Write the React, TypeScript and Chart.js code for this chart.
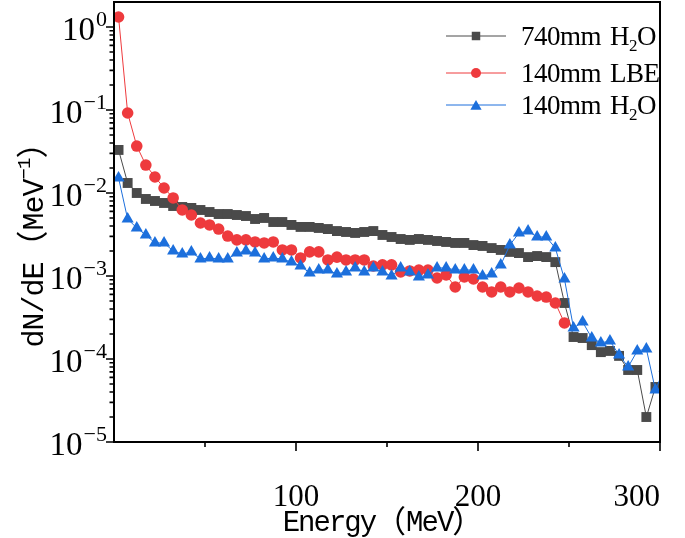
import React, { useEffect, useRef } from 'react';
import { Chart, registerables } from 'chart.js';

Chart.register(...registerables);

// Energy bins (MeV)
const energy = [
  2.5, 7.5, 12.5, 17.5, 22.5, 27.5, 32.5, 37.5, 42.5, 47.5,
  52.5, 57.5, 62.5, 67.5, 72.5, 77.5, 82.5, 87.5, 92.5, 97.5,
  102.5, 107.5, 112.5, 117.5, 122.5, 127.5, 132.5, 137.5, 142.5, 147.5,
  152.5, 157.5, 162.5, 167.5, 172.5, 177.5, 182.5, 187.5, 192.5, 197.5,
  202.5, 207.5, 212.5, 217.5, 222.5, 227.5, 232.5, 237.5, 242.5, 247.5,
  252.5, 257.5, 262.5, 267.5, 272.5, 277.5, 282.5, 287.5, 292.5, 297.5,
  302.5,
];

// 740mm H2O
const h2o740 = [
  0.0330, 0.0132, 0.0100, 0.00847, 0.00801, 0.00758, 0.00697, 0.00678, 0.00660, 0.00624,
  0.00590, 0.00558, 0.00558, 0.00543, 0.00528, 0.00486, 0.00500, 0.00447, 0.00447, 0.00412,
  0.00390, 0.00390, 0.00379, 0.00368, 0.00348, 0.00339, 0.00330, 0.00339, 0.00348, 0.00312,
  0.00295, 0.00279, 0.00272, 0.00279, 0.00272, 0.00264, 0.00257, 0.00250, 0.00250, 0.00236,
  0.00230, 0.00217, 0.00206, 0.00195, 0.00189, 0.00169, 0.00174, 0.00169, 0.00147, 0.000473,
  0.000184, 0.000179, 0.000147, 0.000121, 0.000125, 0.000109, 0.0000737, 0.0000737, 0.0000200, 0.0000460,
];

// 140mm LBE
const lbe140 = [
  1.32, 0.0920, 0.0368, 0.0217, 0.01559, 0.01149, 0.00871, 0.00624, 0.00543, 0.00435,
  0.00412, 0.00368, 0.00303, 0.00272, 0.00272, 0.00257, 0.00250, 0.00257, 0.00206, 0.00206,
  0.00165, 0.00195, 0.00195, 0.00156, 0.00169, 0.00156, 0.00156, 0.00156, 0.00132, 0.00136,
  0.00136, 0.00112, 0.00115, 0.00118, 0.00118, 0.000946, 0.00103, 0.000737, 0.000973, 0.000920,
  0.000737, 0.000642, 0.000737, 0.000642, 0.000717, 0.000642, 0.000574, 0.000558, 0.000473, 0.000272,
];

// 140mm H2O
const h2o140 = [
  0.01517, 0.00486, 0.00379, 0.00312, 0.00250, 0.00250, 0.00200, 0.00184, 0.00195, 0.00160,
  0.00165, 0.00160, 0.00160, 0.00189, 0.00200, 0.00189, 0.00160, 0.00165, 0.00160, 0.00147,
  0.00132, 0.00109, 0.00118, 0.00118, 0.00106, 0.00112, 0.00125, 0.00112, 0.00125, 0.00112,
  0.00100, 0.00125, 0.00112, 0.000973, 0.00103, 0.00125, 0.00125, 0.00118, 0.00118, 0.00118,
  0.00100, 0.00106, 0.00136, 0.00236, 0.00330, 0.00348, 0.00295, 0.00295, 0.00217, 0.000920,
  0.000236, 0.000279, 0.000179, 0.000156, 0.000165, 0.000112, 0.0000801, 0.000125, 0.000132, 0.0000423,
  0.0000779,
];

const xMajorTicks = [100, 200, 300];
const xMinorTicks = [50, 150, 250];
const yDecades = [0, -1, -2, -3, -4, -5];

const legendLabels = [
  { main: '740mm', chem: ['H', '2', 'O'] },
  { main: '140mm', chem: ['LBE', '', ''] },
  { main: '140mm', chem: ['H', '2', 'O'] },
];

const GRAY = '#4a4a4a';
const RED = '#ee3a3d';
const BLUE = '#1c6fdc';

const SERIF = '"Liberation Serif", "Times New Roman", serif';
const MONO = '"Liberation Mono", monospace';
const CJK = '"Noto Sans CJK SC", sans-serif';

type Part = [string, string, number, number]; // text, font, dy, letterSpacing

function drawParts(ctx: any, parts: Part[], startX: number, baseY: number) {
  let x = startX;
  for (const [t, f, dy, ls] of parts) {
    ctx.font = f;
    ctx.letterSpacing = `${ls}px`;
    ctx.fillText(t, x, baseY + dy);
    x += ctx.measureText(t).width;
  }
  ctx.letterSpacing = '0px';
}

function partsWidth(ctx: any, parts: Part[]) {
  let w = 0;
  for (const [t, f, , ls] of parts) {
    ctx.font = f;
    ctx.letterSpacing = `${ls}px`;
    w += ctx.measureText(t).width;
  }
  ctx.letterSpacing = '0px';
  return w;
}

function drawMarker(ctx: CanvasRenderingContext2D, style: string, x: number, y: number, r: number) {
  ctx.beginPath();
  if (style === 'rect') {
    const s = Math.SQRT1_2 * r;
    ctx.rect(x - s, y - s, 2 * s, 2 * s);
  } else if (style === 'circle') {
    ctx.arc(x, y, r, 0, Math.PI * 2);
  } else {
    ctx.moveTo(x, y - r);
    ctx.lineTo(x + r * Math.sin((2 * Math.PI) / 3), y - r * Math.cos((2 * Math.PI) / 3));
    ctx.lineTo(x + r * Math.sin((4 * Math.PI) / 3), y - r * Math.cos((4 * Math.PI) / 3));
    ctx.closePath();
  }
  ctx.fill();
}

const decorPlugin = {
  id: 'decor',
  afterDraw(chart: any) {
    const { ctx, chartArea: a, scales } = chart;
    const xs = scales.x;
    const ys = scales.y;
    ctx.save();
    // frame
    ctx.strokeStyle = '#000';
    ctx.lineWidth = 2;
    ctx.strokeRect(a.left, a.top, a.right - a.left, a.bottom - a.top);

    // x ticks
    ctx.lineWidth = 1.6;
    ctx.beginPath();
    for (const t of xMajorTicks) {
      const px = xs.getPixelForValue(t);
      ctx.moveTo(px, a.bottom);
      ctx.lineTo(px, a.bottom + 9);
    }
    for (const t of xMinorTicks) {
      const px = xs.getPixelForValue(t);
      ctx.moveTo(px, a.bottom);
      ctx.lineTo(px, a.bottom + 5);
    }
    // y ticks
    for (const d of yDecades) {
      const v = Math.pow(10, d);
      const py = ys.getPixelForValue(v);
      ctx.moveTo(a.left, py);
      ctx.lineTo(a.left - 8, py);
      for (let m = 2; m <= 9; m++) {
        const mv = m * v;
        if (mv >= ys.max) continue;
        const pm = ys.getPixelForValue(mv);
        ctx.moveTo(a.left, pm);
        ctx.lineTo(a.left - 4.5, pm);
      }
    }
    ctx.stroke();

    // y tick labels 10^n
    ctx.fillStyle = '#000';
    ctx.textAlign = 'left';
    ctx.textBaseline = 'alphabetic';
    const right = a.left - 7;
    for (const d of yDecades) {
      const py = ys.getPixelForValue(Math.pow(10, d));
      const sup = d === 0 ? '0' : '\u2212' + String(-d);
      ctx.font = `22px ${SERIF}`;
      const sw = ctx.measureText(sup).width;
      ctx.font = `33px ${SERIF}`;
      const bw = ctx.measureText('10').width;
      ctx.fillText('10', right - sw - bw - 1, py + 13);
      ctx.font = `22px ${SERIF}`;
      ctx.fillText(sup, right - sw, py - 1);
    }

    // x title
    const xParts: Part[] = [
      ['Energy', `29px ${MONO}`, 0, -2],
      ['\uFF08', `31px ${CJK}`, 1, 0],
      ['MeV', `29px ${MONO}`, 0, -2],
      ['\uFF09', `31px ${CJK}`, 1, 0],
    ];
    const xw = partsWidth(ctx, xParts);
    drawParts(ctx, xParts, 383 - xw / 2, 531);

    // y title (rotated)
    ctx.save();
    ctx.translate(33, 237);
    ctx.rotate(-Math.PI / 2);
    const yParts: Part[] = [
      ['dN/dE', `30px ${MONO}`, 10, -1],
      ['\uFF08', `32px ${CJK}`, 11, 0],
      ['MeV', `30px ${MONO}`, 10, -1],
      ['\u22121', `19px ${MONO}`, -3, -1],
      ['\uFF09', `32px ${CJK}`, 11, 0],
    ];
    const yw = partsWidth(ctx, yParts);
    drawParts(ctx, yParts, -yw / 2, 0);
    ctx.restore();

    // legend
    const styles = ['rect', 'circle', 'triangle'];
    const colors = [GRAY, RED, BLUE];
    const radii = [6, 5, 6.5];
    const rows = [36, 73, 105];
    for (let i = 0; i < 3; i++) {
      const ry = rows[i];
      ctx.strokeStyle = colors[i];
      ctx.lineWidth = 1;
      ctx.beginPath();
      ctx.moveTo(446, ry);
      ctx.lineTo(506, ry);
      ctx.stroke();
      ctx.fillStyle = colors[i];
      drawMarker(ctx, styles[i], 476, i === 2 ? ry + 1.5 : ry, radii[i]);
      ctx.fillStyle = '#000';
      ctx.textAlign = 'left';
      ctx.textBaseline = 'alphabetic';
      const lab = legendLabels[i];
      ctx.font = `27px ${SERIF}`;
      ctx.letterSpacing = '-0.5px';
      let tx = 521;
      ctx.fillText(lab.main, tx, ry + 9);
      tx += ctx.measureText(lab.main).width + 9;
      ctx.fillText(lab.chem[0], tx, ry + 9);
      tx += ctx.measureText(lab.chem[0]).width;
      if (lab.chem[1]) {
        ctx.font = `17px ${SERIF}`;
        ctx.fillText(lab.chem[1], tx, ry + 15);
        tx += ctx.measureText(lab.chem[1]).width;
        ctx.font = `27px ${SERIF}`;
        ctx.fillText(lab.chem[2], tx, ry + 9);
      }
      ctx.letterSpacing = '0px';
    }
    ctx.restore();
  },
};

function toPoints(values: number[]) {
  return values.map((v, i) => ({ x: energy[i], y: v }));
}

export default function App() {
  const ref = useRef<HTMLCanvasElement | null>(null);

  useEffect(() => {
    if (!ref.current) return;
    const chart = new Chart(ref.current, {
      type: 'line',
      data: {
        datasets: [
          {
            label: '740mm H2O',
            data: toPoints(h2o740),
            borderColor: GRAY,
            backgroundColor: GRAY,
            borderWidth: 1,
            pointStyle: 'rect',
            pointRadius: 7,
            pointBorderWidth: 0,
            pointBackgroundColor: GRAY,
            order: 3,
          },
          {
            label: '140mm LBE',
            data: toPoints(lbe140),
            borderColor: RED,
            backgroundColor: RED,
            borderWidth: 1,
            pointStyle: 'circle',
            pointRadius: 5.8,
            pointBorderWidth: 0,
            pointBackgroundColor: RED,
            order: 2,
          },
          {
            label: '140mm H2O',
            data: toPoints(h2o140),
            borderColor: BLUE,
            backgroundColor: BLUE,
            borderWidth: 1,
            pointStyle: 'triangle',
            pointRadius: 7,
            pointBorderWidth: 0,
            pointBackgroundColor: BLUE,
            order: 1,
          },
        ],
      },
      options: {
        animation: false,
        responsive: true,
        maintainAspectRatio: false,
        layout: { autoPadding: false, padding: { top: 2, right: 25, left: 0, bottom: 0 } },
        plugins: { legend: { display: false }, tooltip: { enabled: false } },
        scales: {
          x: {
            type: 'linear',
            min: 0,
            max: 300,
            border: { display: false },
            grid: { display: false, drawTicks: true, tickLength: 37 },
            ticks: {
              stepSize: 100,
              autoSkip: false,
              maxRotation: 0,
              padding: 0,
              align: 'inner',
              color: '#000',
              font: { family: SERIF, size: 31 },
              callback: (v: any) => (xMajorTicks.includes(Number(v)) ? String(v) : ''),
            },
            afterFit: (s: any) => {
              s.height = 96;
            },
          },
          y: {
            type: 'logarithmic',
            min: 1e-5,
            max: 2,
            border: { display: false },
            grid: { display: false },
            ticks: { display: false },
            afterFit: (s: any) => {
              s.width = 114;
            },
          },
        },
      },
      plugins: [decorPlugin],
    });
    return () => chart.destroy();
  }, []);

  return (
    <div style={{ position: 'absolute', left: 0, top: 0, width: 685, height: 538, background: '#fff' }}>
      <canvas ref={ref} />
    </div>
  );
}
